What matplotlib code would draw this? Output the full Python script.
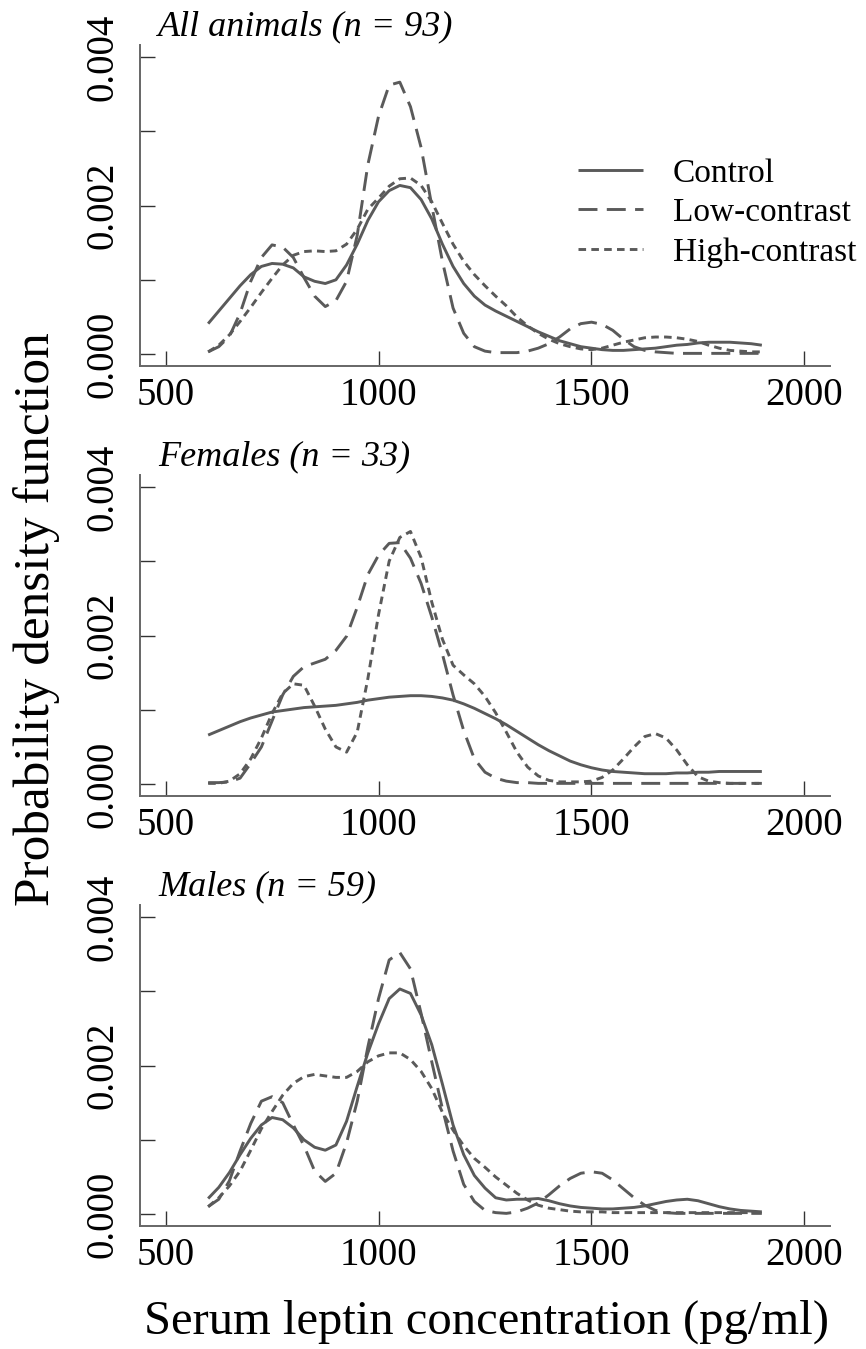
import numpy as np
import matplotlib
matplotlib.use("Agg")
import matplotlib.pyplot as plt

# ---------------- data (densities in units of 1e-3) ----------------
leptin = [600, 625, 650, 675, 700, 725, 750, 775, 800, 825, 850, 875, 900,
          925, 950, 975, 1000, 1025, 1050, 1075, 1100, 1125, 1150, 1175, 1200,
          1225, 1250, 1275, 1300, 1325, 1350, 1375, 1400, 1425, 1450, 1475,
          1500, 1525, 1550, 1575, 1600, 1625, 1650, 1675, 1700, 1725, 1750,
          1775, 1800, 1825, 1850, 1875, 1900]

all_control = [0.41, 0.58, 0.75, 0.92, 1.07, 1.18, 1.22, 1.21, 1.16, 1.04, 0.98, 0.95, 1.00,
               1.20, 1.48, 1.80, 2.05, 2.20, 2.27, 2.24, 2.08, 1.82, 1.48, 1.18, 0.95,
               0.78, 0.66, 0.58, 0.51, 0.44, 0.37, 0.30, 0.24, 0.18, 0.14, 0.10,
               0.08, 0.06, 0.05, 0.05, 0.06, 0.07, 0.08, 0.10, 0.12, 0.13, 0.15,
               0.16, 0.16, 0.16, 0.15, 0.14, 0.12]
all_low = [0.03, 0.10, 0.24, 0.55, 0.98, 1.30, 1.47, 1.44, 1.30, 1.03, 0.78, 0.64, 0.72,
           0.98, 1.60, 2.55, 3.20, 3.62, 3.66, 3.33, 2.78, 2.00, 1.25, 0.62, 0.28,
           0.10, 0.04, 0.02, 0.02, 0.02, 0.04, 0.08, 0.14, 0.23, 0.34, 0.41,
           0.43, 0.40, 0.32, 0.20, 0.10, 0.05, 0.03, 0.02, 0.01, 0.01, 0.01,
           0.01, 0.01, 0.01, 0.01, 0.01, 0.01]
all_high = [0.03, 0.12, 0.26, 0.44, 0.63, 0.83, 1.02, 1.20, 1.33, 1.38, 1.39, 1.38, 1.39,
            1.48, 1.68, 1.95, 2.10, 2.26, 2.36, 2.37, 2.27, 2.05, 1.76, 1.48, 1.25,
            1.07, 0.92, 0.78, 0.65, 0.50, 0.38, 0.28, 0.20, 0.14, 0.10, 0.07,
            0.06, 0.08, 0.12, 0.16, 0.19, 0.22, 0.23, 0.23, 0.22, 0.20, 0.17,
            0.12, 0.08, 0.05, 0.04, 0.03, 0.03]

fem_control = [0.66, 0.72, 0.78, 0.84, 0.89, 0.93, 0.97, 0.99, 1.01, 1.03, 1.04, 1.05, 1.06,
               1.08, 1.10, 1.13, 1.15, 1.17, 1.18, 1.19, 1.19, 1.18, 1.16, 1.13, 1.08,
               1.02, 0.95, 0.88, 0.80, 0.71, 0.62, 0.53, 0.45, 0.38, 0.31, 0.26,
               0.22, 0.19, 0.17, 0.16, 0.15, 0.14, 0.14, 0.14, 0.15, 0.15, 0.16,
               0.16, 0.17, 0.17, 0.17, 0.17, 0.17]
fem_low = [0.02, 0.02, 0.03, 0.08, 0.28, 0.50, 0.85, 1.20, 1.45, 1.58, 1.63, 1.68, 1.80,
           1.99, 2.38, 2.82, 3.08, 3.24, 3.25, 3.04, 2.70, 2.25, 1.75, 1.20, 0.72,
           0.34, 0.16, 0.08, 0.04, 0.02, 0.02, 0.01, 0.01, 0.01, 0.01, 0.01,
           0.01, 0.01, 0.01, 0.01, 0.01, 0.01, 0.01, 0.01, 0.01, 0.01, 0.01,
           0.01, 0.01, 0.01, 0.01, 0.01, 0.01]
fem_high = [0.01, 0.01, 0.04, 0.14, 0.34, 0.62, 0.95, 1.22, 1.35, 1.33, 1.05, 0.74, 0.50,
            0.43, 0.70, 1.42, 2.28, 3.00, 3.32, 3.40, 3.05, 2.45, 1.95, 1.60, 1.47,
            1.35, 1.18, 0.96, 0.70, 0.43, 0.23, 0.11, 0.05, 0.03, 0.03, 0.03,
            0.04, 0.09, 0.19, 0.34, 0.50, 0.64, 0.68, 0.62, 0.46, 0.26, 0.10,
            0.04, 0.02, 0.01, 0.01, 0.01, 0.01]

male_control = [0.21, 0.36, 0.56, 0.80, 1.02, 1.20, 1.30, 1.27, 1.16, 1.00, 0.90, 0.86, 0.93,
                1.25, 1.72, 2.17, 2.56, 2.90, 3.03, 2.97, 2.68, 2.28, 1.75, 1.20, 0.80,
                0.52, 0.35, 0.22, 0.19, 0.20, 0.20, 0.21, 0.18, 0.14, 0.11, 0.09,
                0.08, 0.07, 0.07, 0.08, 0.09, 0.11, 0.14, 0.17, 0.19, 0.20, 0.18,
                0.14, 0.10, 0.07, 0.05, 0.04, 0.03]
male_low = [0.10, 0.20, 0.45, 0.85, 1.22, 1.52, 1.58, 1.50, 1.20, 0.92, 0.58, 0.44, 0.55,
            0.96, 1.52, 2.25, 2.90, 3.42, 3.52, 3.30, 2.70, 2.05, 1.42, 0.85, 0.40,
            0.17, 0.05, 0.02, 0.01, 0.03, 0.08, 0.15, 0.26, 0.38, 0.48, 0.55,
            0.57, 0.55, 0.46, 0.34, 0.22, 0.12, 0.05, 0.02, 0.01, 0.01, 0.01,
            0.01, 0.01, 0.01, 0.01, 0.01, 0.01]
male_high = [0.10, 0.22, 0.38, 0.58, 0.86, 1.15, 1.38, 1.60, 1.76, 1.85, 1.88, 1.86, 1.84,
             1.84, 1.92, 2.05, 2.13, 2.17, 2.17, 2.08, 1.92, 1.69, 1.37, 1.13, 0.92,
             0.75, 0.63, 0.50, 0.39, 0.28, 0.19, 0.12, 0.08, 0.06, 0.04, 0.03,
             0.03, 0.03, 0.02, 0.02, 0.02, 0.02, 0.02, 0.02, 0.02, 0.02, 0.02,
             0.02, 0.02, 0.02, 0.02, 0.02, 0.02]

panel_titles = ["All animals (n = 93)", "Females (n = 33)", "Males (n = 59)"]
group_names = ["Control", "Low-contrast", "High-contrast"]
x_ticks = [500, 1000, 1500, 2000]
y_ticks = [0.000, 0.001, 0.002, 0.003, 0.004]
y_tick_labels = ["0.000", "", "0.002", "", "0.004"]

panels = [
    [all_control, all_low, all_high],
    [fem_control, fem_low, fem_high],
    [male_control, male_low, male_high],
]

# ---------------- style ----------------
W, H = 866, 1349
plt.rcParams["font.family"] = ["Liberation Serif", "DejaVu Serif"]
line_col = "#5a5a5a"
styles = [
    dict(linestyle="-"),
    dict(linestyle=(0, (6.5, 3.2))),
    dict(linestyle=(0, (2.6, 1.8))),
]

fig = plt.figure(figsize=(W / 100, H / 100), dpi=100)

# axes boxes in pixels: (top, bottom)
boxes = [(45, 366), (475, 796), (905, 1226)]
left_px, right_px = 140, 830

for k, (top, bot) in enumerate(boxes):
    ax = fig.add_axes([left_px / W, 1 - bot / H, (right_px - left_px) / W, (bot - top) / H])
    for series, st, name in zip(panels[k], styles, group_names):
        ax.plot(leptin, np.array(series) * 1e-3, color=line_col, lw=2.1,
                solid_capstyle="butt", dash_capstyle="butt", label=name, **st)
    ax.set_xlim(440, 2060)
    ax.set_ylim(-0.00016, 0.00416)
    for s in ["top", "right"]:
        ax.spines[s].set_visible(False)
    for s in ["left", "bottom"]:
        ax.spines[s].set_color("#666666")
        ax.spines[s].set_linewidth(1.4)
    ax.set_xticks(x_ticks)
    ax.set_xticklabels([str(v) for v in x_ticks])
    ax.set_yticks(y_ticks)
    ax.set_yticklabels(y_tick_labels, rotation=90, va="center")
    ax.tick_params(axis="both", direction="in", length=11, width=1.0,
                   color="#333333", labelsize=28, labelcolor="black")
    ax.tick_params(axis="x", pad=8)
    ax.tick_params(axis="y", pad=13)
    fig.text(158 / W, 1 - (top - 10) / H, panel_titles[k], fontsize=26,
             style="italic", ha="left", va="baseline")
    if k == 0:
        ax.legend(loc="upper left", bbox_to_anchor=(578 / W, 1 - 158 / H),
                  bbox_transform=fig.transFigure, frameon=False, fontsize=24,
                  handlelength=1.95, handletextpad=0.9, labelspacing=0.27,
                  borderpad=0, borderaxespad=0)

fig.text(37 / W, 1 - 619 / H, "Probability density function", rotation=90,
         fontsize=37, ha="center", va="center")
fig.text(487 / W, 1 - 1322 / H, "Serum leptin concentration (pg/ml)",
         fontsize=35, ha="center", va="center")

fig.savefig("out.png", dpi=100)
